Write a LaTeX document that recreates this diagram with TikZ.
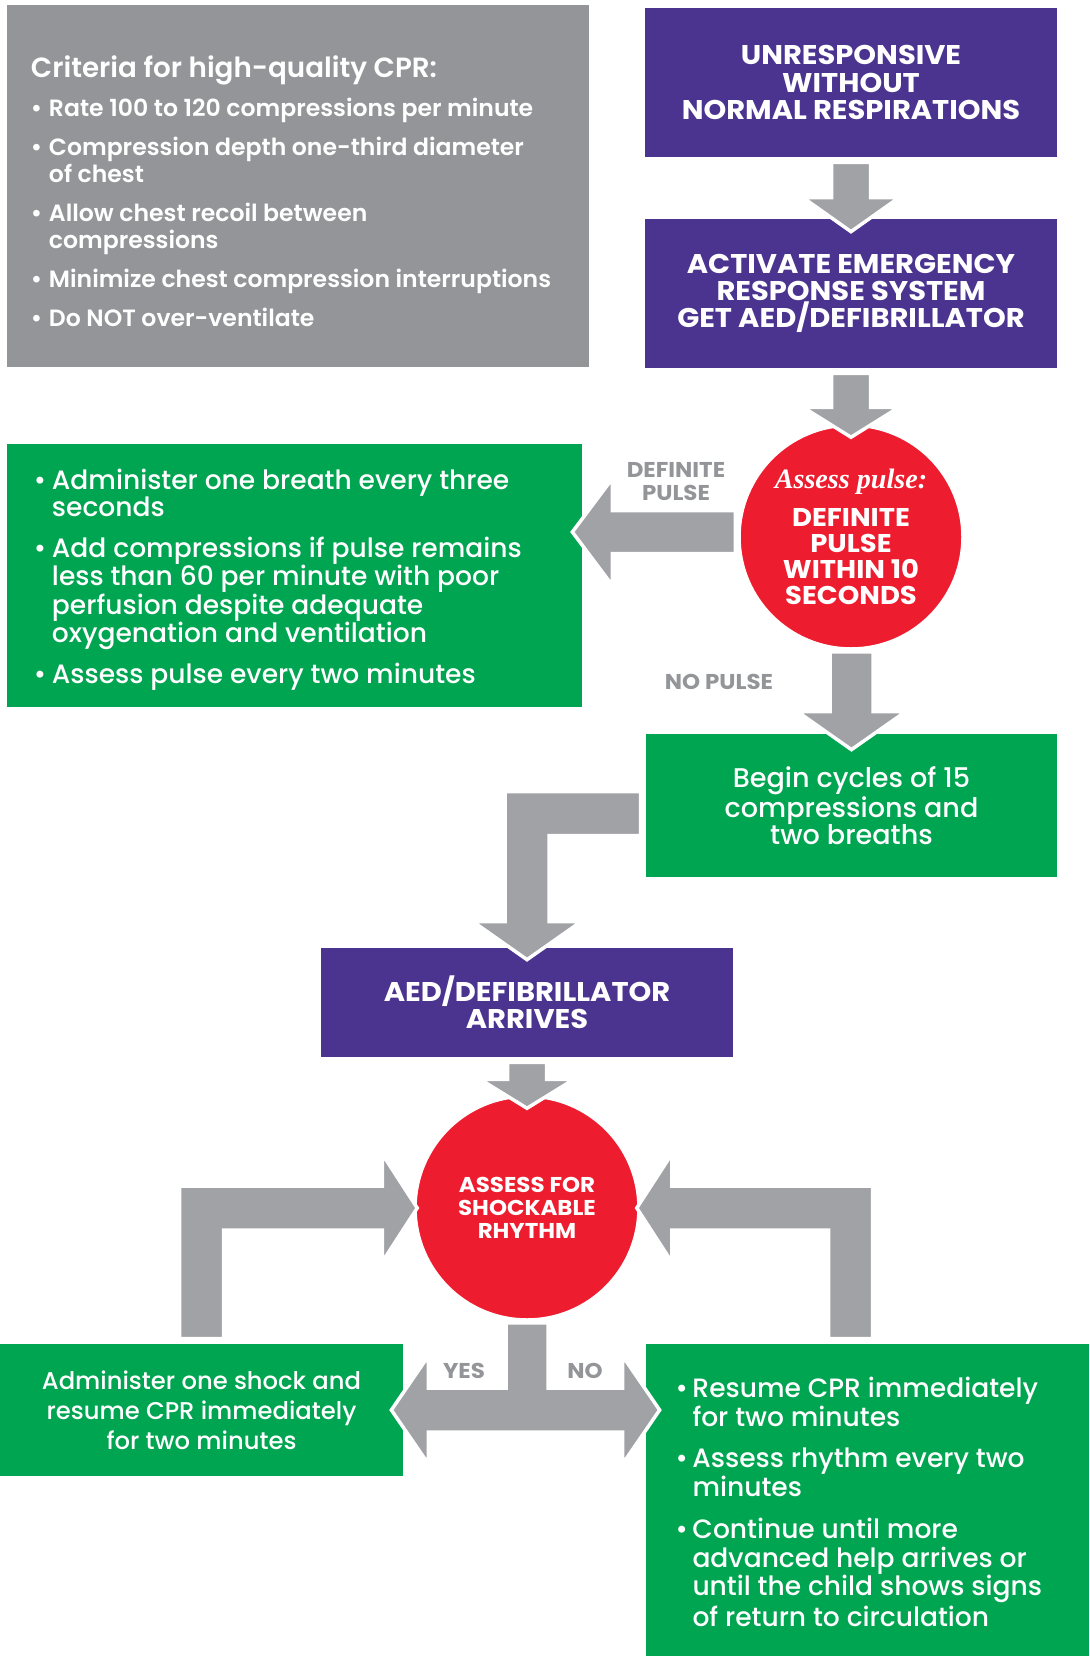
\documentclass[tikz,border=0pt]{standalone}
\usepackage{fontspec}
\setmainfont{Poppins}[UprightFont={* Medium}, BoldFont={* SemiBold}]
\newfontfamily\capsfont{Poppins}[UprightFont={* Bold}, FakeStretch=1.07]
\newfontfamily\pulsefont{Liberation Serif}
\usepackage{xcolor}
\usepackage{tikz}
\usetikzlibrary{calc}

\definecolor{cprgray}{HTML}{939598}
\definecolor{cprpurple}{HTML}{4A3490}
\definecolor{cprred}{HTML}{ED1C2E}
\definecolor{cprgreen}{HTML}{00A551}
\definecolor{arrowgray}{HTML}{A1A2A6}
\definecolor{labelgray}{HTML}{939598}

\newcommand{\fatdown}[5]{%
  \draw [fatarrow] ($(#2 |- #1)+(-#3,0)$) -- ($(#2)+(-#3,-#5)$) -- ($(#2)+(-#4,-#5)$) -- (#2) -- ($(#2)+(#4,-#5)$) -- ($(#2)+(#3,-#5)$) -- ($(#2 |- #1)+(#3,0)$) -- cycle;}

\begin{document}
\begin{tikzpicture}[x=0.2mm, y=-0.2mm,
    box/.style={rectangle, inner sep=0pt, text=white},
    purplebox/.style={box, fill=cprpurple, minimum width=82.4mm, align=center, font=\fontsize{15.4}{15.6}\selectfont\capsfont},
    greenbox/.style={box, fill=cprgreen, font=\fontsize{15.1}{15.4}\selectfont},
    decision/.style={circle, fill=cprred, draw=white, line width=0.7mm, inner sep=0pt, minimum size=44.8mm, text=white, align=center},
    armlabel/.style={text=labelgray, align=center, font=\fontsize{12.2}{13.1}\selectfont\capsfont},
    fatarrow/.style={fill=arrowgray, draw=white, line width=0.7mm, line join=miter}]

        \path [use as bounding box, fill=white] (0,0) rectangle (1089,1656);

        %% Boxes
        \node (criteria) [box, fill=cprgray, minimum width=116.4mm, minimum height=72.4mm, font=\fontsize{13.4}{15.2}\selectfont\bfseries] at (298,186) {\begin{tabular}{@{}p{3.6mm}@{}p{103.2mm}@{}}
            \multicolumn{2}{@{}l@{}}{\rule{0pt}{23pt}\fontsize{15.8}{15.8}\selectfont Criteria for high-quality CPR:} \\[7pt]
            \textbullet & Rate 100 to 120 compressions per minute \\[7pt]
            \textbullet & Compression depth one-third diameter \\
                        & of chest \\[7pt]
            \textbullet & Allow chest recoil between \\
                        & compressions \\[7pt]
            \textbullet & Minimize chest compression interruptions \\[7pt]
            \textbullet & Do NOT over-ventilate
        \end{tabular}};
        \node (unresp) [purplebox, minimum height=29.8mm] at (851,82.5) {UNRESPONSIVE\\WITHOUT\\NORMAL RESPIRATIONS};
        \node (activate) [purplebox, minimum height=29.8mm] at (851,293.5) {ACTIVATE EMERGENCY\\RESPONSE SYSTEM\\GET AED/DEFIBRILLATOR};
        \node (breath) [greenbox, minimum width=115mm, minimum height=52.6mm] at (294.5,575.5) {\begin{tabular}{@{}p{3.6mm}@{}p{100.6mm}@{}}
            \textbullet & \rule{0pt}{16.7pt}Administer one breath every three \\
                        & seconds \\[6.6pt]
            \textbullet & Add compressions if pulse remains \\
                        & less than 60 per minute with poor \\
                        & perfusion despite adequate \\
                        & oxygenation and ventilation \\[6.6pt]
            \textbullet & Assess pulse every two minutes
        \end{tabular}};
        \node (cycles) [greenbox, minimum width=82.2mm, minimum height=28.6mm, align=center, font=\fontsize{15.4}{15.7}\selectfont] at (851.5,805.5) {Begin cycles of 15\\compressions and\\two breaths};
        \node (aed) [purplebox, minimum height=21.8mm] at (527,1002.5) {AED/DEFIBRILLATOR\\ARRIVES};
        \node (shock) [greenbox, minimum width=80.6mm, minimum height=26.4mm, align=center, font=\fontsize{13.8}{17}\selectfont] at (201.5,1410) {Administer one shock and\\resume CPR immediately\\for two minutes};
        \node (resume) [greenbox, minimum width=88.6mm, minimum height=62.4mm] at (867.5,1500) {\begin{tabular}{@{}p{3.4mm}@{}p{73.4mm}@{}}
            \textbullet & \rule{0pt}{18.5pt}Resume CPR immediately \\
                        & for two minutes \\[7.8pt]
            \textbullet & Assess rhythm every two \\
                        & minutes \\[7.8pt]
            \textbullet & Continue until more \\
                        & advanced help arrives or \\
                        & until the child shows signs \\[1.5pt]
                        & of return to circulation
        \end{tabular}};

        %% Circles
        \node (pulse) [decision, font=\fontsize{14.6}{14.8}\selectfont\capsfont] at (851,537) {{\pulsefont\bfseries\itshape\fontsize{16}{16}\selectfont Assess pulse:}\\[6.8pt]DEFINITE\\PULSE\\WITHIN 10\\SECONDS};
        \node (assess) [decision, font=\fontsize{12.2}{13.1}\selectfont\capsfont] at (527,1208) {ASSESS FOR\\SHOCKABLE\\RHYTHM};

        %% Labels
        \node (definite) [armlabel] at (676,482) {DEFINITE\\PULSE};
        \node (nopulse) [armlabel] at (719,682) {NO PULSE};
        \node (yes) [armlabel] at (464,1371) {YES};
        \node (no) [armlabel] at (585,1371) {NO};

        %% Arrows
        \coordinate (a1s) at ($(unresp.south)+(0,5)$);
        \coordinate (a1t) at ($(activate.north)+(0,13)$);
        \fatdown{a1s}{a1t}{19.5}{48}{34}
        \coordinate (a2s) at ($(activate.south)+(0,5)$);
        \coordinate (a2t) at ($(pulse.north)+(0,14)$);
        \fatdown{a2s}{a2t}{19.5}{48}{30}
        \coordinate (a3s) at ($(pulse.south)+(0,1)$);
        \coordinate (a3t) at ($(cycles.north)+(0,16)$);
        \fatdown{a3s}{a3t}{21.5}{54}{38}
        \coordinate (a4s) at ($(aed.south)+(0,5)$);
        \coordinate (a4t) at ($(assess.north)+(0,14)$);
        \fatdown{a4s}{a4t}{19.5}{47}{29}

        \coordinate (a5s) at ($(pulse.west)+(-2,-5)$);
        \coordinate (a5t) at ($(pulse.west -| breath.east)+(-10,-5)$);
        \draw [fatarrow] ($(a5s)+(0,-21.5)$) -- ($(a5t)+(40,-21.5)$) -- ($(a5t)+(40,-53.5)$) -- (a5t) -- ($(a5t)+(40,53.5)$) -- ($(a5t)+(40,21.5)$) -- ($(a5s)+(0,21.5)$) -- cycle;

        \coordinate (a6s) at ($(cycles.west)+(-5,8)$);
        \coordinate (a6t) at ($(aed.north)+(0,12)$);
        \draw [fatarrow] ($(a6s)+(0,-22)$) -- ($(a6t |- a6s)+(-22,-22)$) -- ($(a6t)+(-22,-38)$) -- ($(a6t)+(-54,-38)$) -- (a6t) -- ($(a6t)+(54,-38)$) -- ($(a6t)+(22,-38)$) -- ($(a6t |- a6s)+(22,22)$) -- ($(a6s)+(0,22)$) -- cycle;

        \coordinate (a7s) at ($(shock.north)+(0,-5)$);
        \coordinate (a7t) at ($(assess.west)+(4,0)$);
        \draw [fatarrow] ($(a7s)+(-22,0)$) -- ($(a7s |- a7t)+(-22,-22)$) -- ($(a7t)+(-35,-22)$) -- ($(a7t)+(-35,-54)$) -- (a7t) -- ($(a7t)+(-35,54)$) -- ($(a7t)+(-35,22)$) -- ($(a7s |- a7t)+(22,22)$) -- ($(a7s)+(22,0)$) -- cycle;

        \coordinate (a8s) at ($(resume.north west)+(205,-5)$);
        \coordinate (a8t) at ($(assess.east)+(-4,0)$);
        \draw [fatarrow] ($(a8s)+(22,0)$) -- ($(a8s |- a8t)+(22,-22)$) -- ($(a8t)+(35,-22)$) -- ($(a8t)+(35,-54)$) -- (a8t) -- ($(a8t)+(35,54)$) -- ($(a8t)+(35,22)$) -- ($(a8s |- a8t)+(-22,22)$) -- ($(a8s)+(-22,0)$) -- cycle;

        \coordinate (a9s) at ($(assess.south)+(0,1)$);
        \coordinate (a9l) at ($(shock.east)+(-12,0)$);
        \coordinate (a9r) at ($(a9l -| resume.west)+(14,0)$);
        \draw [fatarrow] ($(a9s)+(-21,0)$) -- ($(a9s |- a9l)+(-21,-22)$) -- ($(a9l)+(37,-22)$) -- ($(a9l)+(37,-54)$) -- (a9l) -- ($(a9l)+(37,54)$) -- ($(a9l)+(37,22)$) -- ($(a9r)+(-37,22)$) -- ($(a9r)+(-37,54)$) -- (a9r) -- ($(a9r)+(-37,-54)$) -- ($(a9r)+(-37,-22)$) -- ($(a9s |- a9l)+(21,-22)$) -- ($(a9s)+(21,0)$) -- cycle;

    \end{tikzpicture}
\end{document}
